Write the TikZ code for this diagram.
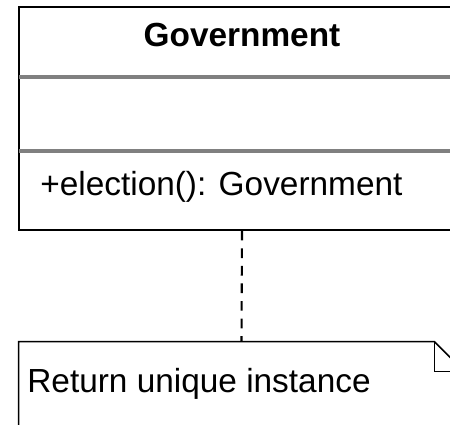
\documentclass[tikz,border=0pt]{standalone}
\usepackage{fontspec}
\setmainfont{Liberation Sans}
\usetikzlibrary{positioning, calc}
\definecolor{sepgray}{RGB}{128,128,128}
\tikzset{
  umlcls/.style={draw=black, line width=0.9pt, minimum width=8.92cm,
                 minimum height=4.46cm, inner sep=0pt},
  umlnote/.style={minimum width=8.9cm, minimum height=2.4cm, inner sep=0pt},
  txt/.style={inner sep=0pt, anchor=base, font=\fontsize{19}{23}\selectfont},
  sepline/.style={draw=sepgray, line width=1.8pt},
  link/.style={dashed, dash pattern=on 5.5pt off 4.5pt, line width=1.2pt},
}
\begin{document}
\begin{tikzpicture}[x=0.02cm, y=-0.02cm]
    \useasboundingbox (0,0) rectangle (450,424);
    \clip (0,0) rectangle (450,424);

    % class box
    \node[umlcls] (cls) at (242,118.5) {};
    \node[txt, font=\fontsize{19}{23}\selectfont\bfseries] (title) at (242,46) {Government};
    \coordinate (sepA) at (19,77);
    \coordinate (sepB) at (19,151);
    \draw[sepline] (sepA) -- (sepA -| cls.east);
    \draw[sepline] (sepB) -- (sepB -| cls.east);
    \node[txt, anchor=base west] (meth) at (40,195) {+election(): Government};

    % note
    \node[umlnote] (note) at (241.5,402) {};
    \node[txt, anchor=base west] (ntext) at (27,392) {Return unique instance};
    \coordinate (fold) at ($(note.north east)+(-30,0)$);
    \draw[line width=0.9pt] (note.south west) -- (note.north west) -- (fold)
        -- ++(30,30) -- (note.south east);
    \draw[line width=0.9pt] (fold) -- ++(0,30) -- ++(30,0);

    \draw[link] (cls.south) -- (note.north);
  \end{tikzpicture}
\end{document}
